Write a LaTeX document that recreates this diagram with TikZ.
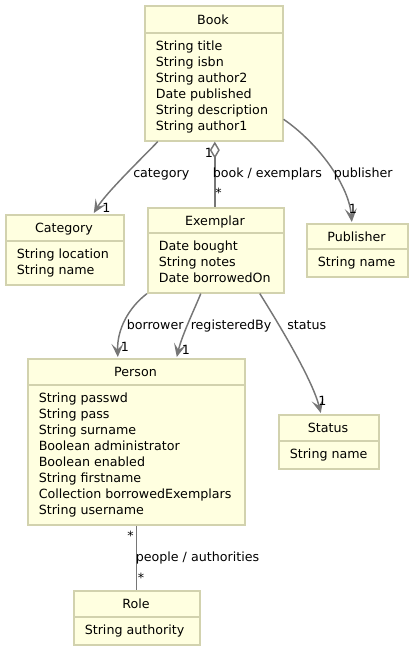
\documentclass[tikz,border=0pt]{standalone}
\usepackage{fontspec}
\setmainfont{DejaVu Sans}
\usetikzlibrary{arrows.meta,calc}
\definecolor{classfill}{HTML}{FFFFE0}
\definecolor{classborder}{HTML}{D2D2AE}
\definecolor{linkgray}{HTML}{767676}
\newcommand\umlfont{\fontsize{9.5pt}{12pt}\selectfont}
\tikzset{
  classbox/.style={rectangle, draw=classborder, fill=classfill, line width=1.2pt, inner sep=0pt},
  classline/.style={draw=classborder, line width=1.2pt},
  classtext/.style={inner sep=0pt, font=\umlfont, text=black},
  assoc/.style={draw=linkgray, line width=1.1pt, -{Stealth[length=10pt,width=9pt,inset=4.5pt]}},
  plainlink/.style={draw=linkgray, line width=1.1pt},
  agglink/.style={draw=linkgray, line width=1.1pt, {Diamond[length=12.75pt,width=7.5pt,fill=white]}-},
  lbl/.style={inner sep=0pt, font=\umlfont, text=black, anchor=base west},
}
% #1 name, #2 left, #3 top, #4 right, #5 bottom, #6 divider, #7 title, #8 attributes
\newcommand\umlclass[8]{%
  \node[classbox, minimum width={(#4-#2)*0.75pt}, minimum height={(#5-#3)*0.75pt}, anchor=north west] (#1) at (#2,#3) {};
  \draw[classline] (#2,#6) -- (#4,#6);
  \node[classtext, anchor=base] (#1-title) at ({(#2+#4)/2},{(#3+#6)/2+5}) {#7};
  \foreach \a [count=\i] in {#8} {
    \node[classtext, anchor=base west] (#1-a\i) at (#2+11.5,{#6+17.8+16*(\i-1)}) {\a};
  }
}
\begin{document}
\begin{tikzpicture}[x=0.75pt,y=-0.75pt]
\useasboundingbox (0,0) rectangle (411,651);

\umlclass{book}{144}{5}{282}{140}{33}{Book}{String title,String isbn,String author2,Date published,String description,String author1}
\umlclass{category}{5}{214}{123}{284}{241}{Category}{String location,String name}
\umlclass{exemplar}{147}{207}{283}{292}{233}{Exemplar}{Date bought,String notes,Date borrowedOn}
\umlclass{publisher}{306}{223}{407}{276}{249}{Publisher}{String name}
\umlclass{person}{27}{358}{244}{524}{385}{Person}{String passwd,String pass,String surname,Boolean administrator,Boolean enabled,String firstname,Collection borrowedExemplars,String username}
\umlclass{status}{278}{414}{378}{468}{441}{Status}{String name}
\umlclass{role}{73}{590}{199}{644}{617}{Role}{String authority}

% Book -> Category
\draw[assoc] ($(book.south)+(-56,0)$) .. controls (142,158) and (106,193) .. ($(category.north)+(29,-1)$);
\node[lbl] (lcat) at (133,177.5) {category};
\node[lbl] (mcat) at (102,212.5) {1};

% Book <>- Exemplar
\draw[agglink] ($(book.south)+(1,0)$) -- ($(exemplar.north)+(-1,0)$);
\node[lbl] (mbook1) at (204.5,157) {1};
\node[lbl] (lbookex) at (212.5,177.5) {book / exemplars};
\node[lbl] (mbookstar) at (215,197.5) {*};

% Book -> Publisher
\draw[assoc] ($(book.east)+(0,46)$) .. controls (318,143) and (349,185) .. ($(publisher.north)+(-5.5,-1)$);
\node[lbl] (lpub) at (333.5,177.5) {publisher};
\node[lbl] (mpub) at (348.5,213) {1};

% Exemplar -> Person (borrower)
\draw[assoc] (exemplar.south west) .. controls (128,308) and (117,330) .. ($(person.north)+(-18.5,-1)$);
\node[lbl] (lborrow) at (126.5,329) {borrower};
\node[lbl] (mborrow) at (120.5,351) {1};

% Exemplar -> Person (registeredBy)
\draw[assoc] ($(exemplar.south)+(-15,0)$) .. controls (195,308) and (182,335) .. ($(person.north)+(40.5,-1)$);
\node[lbl] (lreg) at (190.5,329) {registeredBy};
\node[lbl] (mreg) at (181.5,354) {1};

% Exemplar -> Status
\draw[assoc] ($(exemplar.south)+(44,0)$) .. controls (275,318) and (312,378) .. ($(status.north)+(-8,-1)$);
\node[lbl] (lstatus) at (287,329) {status};
\node[lbl] (mstatus) at (318,405) {1};

% Person -- Role
\draw[plainlink] (person.south) -- (role.north -| person.south);
\node[lbl] (mpers) at (127,540) {*};
\node[lbl] (lpeople) at (135.5,561.5) {people / authorities};
\node[lbl] (mrole) at (137.5,582) {*};
\end{tikzpicture}
\end{document}
